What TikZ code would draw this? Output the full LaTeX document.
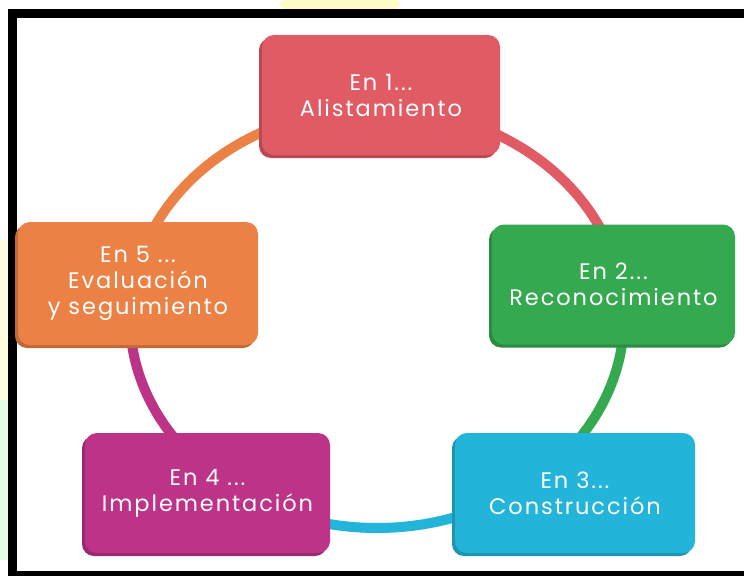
\documentclass[tikz,border=0pt]{standalone}
\usepackage{fontspec}
\setmainfont{Poppins}[LetterSpace=8.5]
\usetikzlibrary{shadows}
\definecolor{cRed}{HTML}{E05B63}
\definecolor{cGreen}{HTML}{34A94F}
\definecolor{cCyan}{HTML}{23B4D9}
\definecolor{cMag}{HTML}{BC3387}
\definecolor{cOrange}{HTML}{EB8145}
\tikzset{
  stage/.style={rectangle, rounded corners=12pt, fill=#1, text=white,
    minimum width=240pt, minimum height=120pt, align=center,
    font=\fontsize{22.5}{26}\selectfont, inner sep=0pt,
    drop shadow={shadow xshift=-3pt, shadow yshift=-3pt, fill=#1!82!black, opacity=1}},
  ring/.style={line width=10pt, #1}
}
\begin{document}
\begin{tikzpicture}[x=1pt,y=-1pt]
\useasboundingbox (0,0) rectangle (744,576);
\fill[white] (0,0) rectangle (744,576);
% faint watermark traces outside frame
\fill[yellow!22] (340,4) ellipse (60 and 12);
\fill[green!10] (0,400) rectangle (8,560);
\fill[yellow!12] (0,240) rectangle (8,400);
% frame
\fill[black] (8,9) rectangle (744,576);
\fill[white] (17,18) rectangle (744,571);
% ring
\def\cx{377}\def\cy{318}\def\rx{247}\def\ry{210}
\draw[ring=cRed] plot[domain=-95:-5, samples=60] ({\cx+\rx*cos(\x)},{\cy+\ry*sin(\x)});
\draw[ring=cGreen] plot[domain=-10:60, samples=60] ({\cx+\rx*cos(\x)},{\cy+\ry*sin(\x)});
\draw[ring=cCyan] plot[domain=55:125, samples=60] ({\cx+\rx*cos(\x)},{\cy+\ry*sin(\x)});
\draw[ring=cMag] plot[domain=120:195, samples=60] ({\cx+\rx*cos(\x)},{\cy+\ry*sin(\x)});
\draw[ring=cOrange] plot[domain=185:275, samples=60] ({\cx+\rx*cos(\x)},{\cy+\ry*sin(\x)});
% stages
\node[stage=cRed, minimum width=238pt] (s1) at (381,95) {En 1...\\Alistamiento};
\node[stage=cGreen, minimum width=243pt] (s2) at (613.5,284.5) {En 2...\\Reconocimiento};
\node[stage=cCyan] (s3) at (575,493) {En 3...\\Construcción};
\node[stage=cMag, minimum width=245pt] (s4) at (207.5,493) {En 4 ...\\Implementación};
\node[stage=cOrange, minimum height=123pt] (s5) at (138,283.5) {En 5 ...\\Evaluación\\y seguimiento};
\end{tikzpicture}
\end{document}
